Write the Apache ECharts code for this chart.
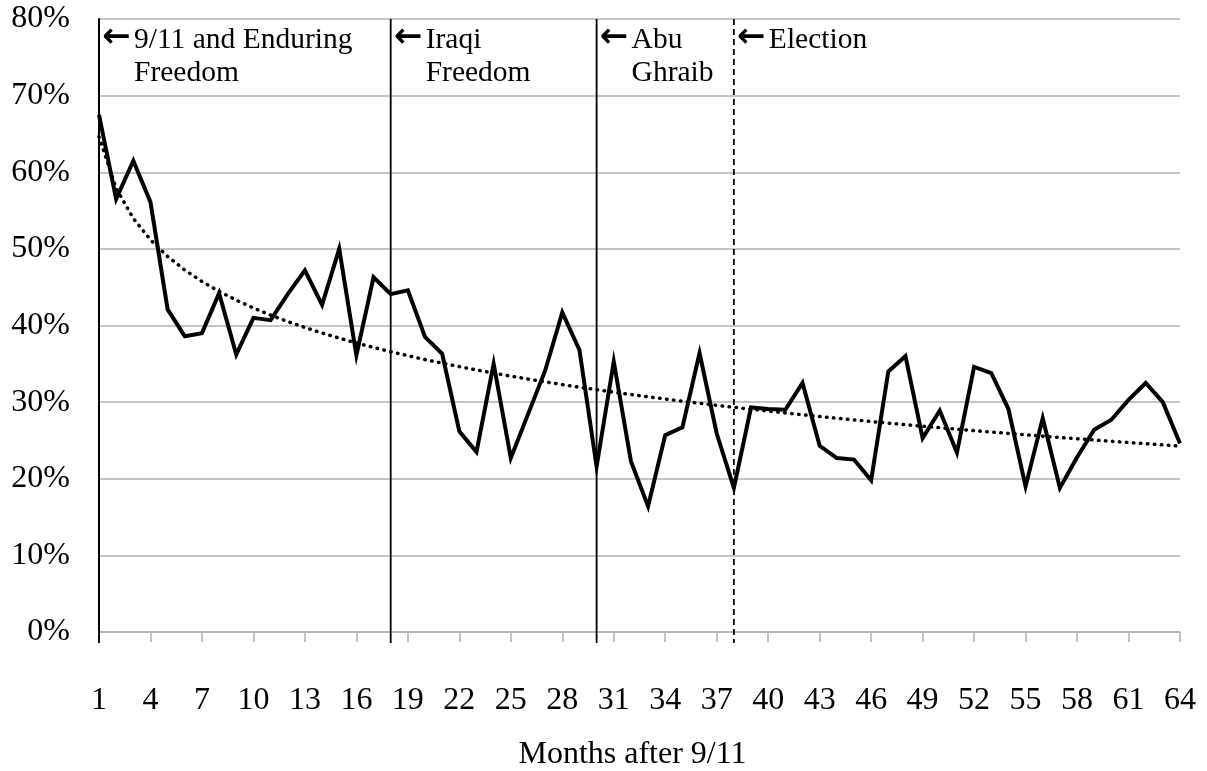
<!DOCTYPE html>
<html>
<head>
<meta charset="utf-8">
<script src="https://cdn.jsdelivr.net/npm/echarts@6/dist/echarts.min.js"></script>
<style>
html,body{margin:0;padding:0;background:#fff;}
#chart{width:1207px;height:771px;}
</style>
</head>
<body>
<div id="chart"></div>
<script>
// ---- data ----
var months = [];
for (var m = 1; m <= 64; m++) months.push(String(m));
var approval = [67.5,56.5,61.5,56.1,42.1,38.6,39.0,44.2,36.2,41.0,
                40.7,44.1,47.2,42.7,50.0,36.1,46.3,44.1,44.6,38.5,
                36.3,26.2,23.5,35.0,22.7,28.4,34.1,41.7,36.8,21.6,
                35.3,22.3,16.4,25.7,26.7,36.4,25.9,18.8,29.3,29.1,
                29.0,32.5,24.3,22.7,22.5,19.8,34.0,36.0,25.3,28.9,
                23.4,34.6,33.8,29.1,19.0,27.9,18.8,22.8,26.4,27.7,
                30.3,32.5,30.0,24.6];
var yTicks = [0,10,20,30,40,50,60,70,80];
var eventMonths = ['1','18','30','38'];
var eventLabels = [['9/11 and Enduring','Freedom'],['Iraqi','Freedom'],['Abu','Ghraib'],['Election']];
var eventDashed = [false,false,false,true];
var xTitle = 'Months after 9/11';

// logarithmic trend line (least squares fit of the data, as a spreadsheet trendline)
var n = approval.length, sx=0, sy=0, sxx=0, sxy=0;
for (var i = 0; i < n; i++) {
  var lx = Math.log(i + 1);
  sx += lx; sy += approval[i]; sxx += lx*lx; sxy += lx*approval[i];
}
var b = (n*sxy - sx*sy) / (n*sxx - sx*sx);
var a = (sy - b*sx) / n;
var trend = approval.map(function(v, i){ return a + b*Math.log(i + 1); });

var FONT = '"Liberation Serif", "Times New Roman", serif';
var chart = echarts.init(document.getElementById('chart'), null, {renderer:'canvas'});
var option = {
  animation: false,
  backgroundColor: '#fff',
  grid: {left: 99, right: 27, top: 19, bottom: 139, containLabel: false, outerBoundsMode: 'none'},
  xAxis: {
    type: 'category',
    data: months,
    boundaryGap: false,
    name: xTitle,
    nameLocation: 'middle',
    nameGap: 107,
    nameTextStyle: {fontFamily: FONT, fontSize: 32, color: '#000', padding: [0, 14, 0, 0]},
    axisLine: {show: true, lineStyle: {color: '#b0b0b0', width: 1.5}},
    axisTick: {show: true, interval: 2, length: 10, lineStyle: {color: '#b0b0b0', width: 1.5}},
    axisLabel: {interval: 2, margin: 53, fontFamily: FONT, fontSize: 32, color: '#000'},
    splitLine: {show: false}
  },
  yAxis: {
    type: 'value',
    min: yTicks[0], max: yTicks[yTicks.length-1], interval: 10,
    axisLine: {show: true, lineStyle: {color: '#000', width: 1.8}},
    axisTick: {show: false},
    axisLabel: {margin: 29, fontFamily: FONT, fontSize: 32, color: '#000', formatter: '{value}%'},
    splitLine: {show: true, lineStyle: {color: '#b0b0b0', width: 1.5}}
  },
  series: [
    {
      type: 'custom',
      z: 1,
      clip: false,
      data: eventMonths.map(function(mo, i){ return [mo, 80, i]; }),
      encode: {x: 0, y: 1},
      renderItem: function(params, api) {
        var idx = api.value(2);
        var top = api.coord([api.value(0), 80]);
        var bot = api.coord([api.value(0), 0]);
        var x = top[0];
        var children = [{
          type: 'line',
          shape: {x1: x, y1: top[1], x2: x, y2: bot[1] + 11},
          style: {stroke: '#000', lineWidth: 1.8, lineDash: eventDashed[idx] ? [6, 4] : null}
        }, {
          type: 'text',
          x: x + 3, y: top[1] + 19,
          style: {text: '\u2190', font: 'bold 34px "DejaVu Sans", sans-serif', fill: '#000', verticalAlign: 'middle', align: 'left'}
        }];
        var lines = eventLabels[idx];
        for (var k = 0; k < lines.length; k++) {
          children.push({
            type: 'text',
            x: x + 35, y: top[1] + 21 + k*33,
            style: {text: lines[k], font: '29.5px ' + FONT, fill: '#000', verticalAlign: 'middle', align: 'left'}
          });
        }
        return {type: 'group', children: children};
      }
    },
    {
      type: 'line',
      z: 2,
      data: trend,
      symbol: 'none',
      smooth: false,
      lineStyle: {color: '#000', width: 3.5, type: [0.5, 6.5], cap: 'round'}
    },
    {
      type: 'line',
      z: 3,
      data: approval,
      symbol: 'none',
      lineStyle: {color: '#000', width: 4, join: 'miter'}
    }
  ]
};
chart.setOption(option);
</script>
</body>
</html>
